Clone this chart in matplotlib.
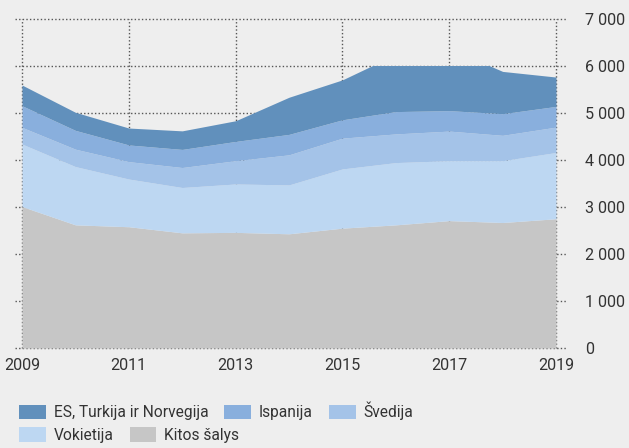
import matplotlib
matplotlib.use("Agg")
import matplotlib.pyplot as plt
from matplotlib.patches import Rectangle, Patch
from matplotlib.ticker import FuncFormatter
import numpy as np

years = [2009, 2010, 2011, 2012, 2013, 2014, 2015, 2016, 2017, 2018, 2019]
kitos = [3010, 2620, 2580, 2450, 2460, 2430, 2550, 2620, 2710, 2670, 2750]
vokietija = [1330, 1240, 1015, 965, 1030, 1040, 1260, 1325, 1275, 1315, 1410]
svedija = [355, 370, 370, 425, 495, 640, 655, 610, 630, 540, 540]
ispanija = [460, 400, 355, 385, 410, 435, 390, 475, 435, 460, 440]
es_tur_nor = [440, 385, 360, 395, 440, 790, 850, 1215, 1330, 900, 625]

series_names = ["Kitos šalys", "Vokietija", "Švedija", "Ispanija", "ES, Turkija ir Norvegija"]
colors = ["#c6c6c6", "#bdd7f2", "#a4c3e8", "#89afdd", "#6190bc"]
y_ticks = [0, 1000, 2000, 3000, 4000, 5000, 6000, 7000]
x_ticks = [2009, 2011, 2013, 2015, 2017, 2019]
total_cap = 6000  # stacked total is shown capped at this level

plt.rcParams["font.family"] = ["Roboto", "DejaVu Sans"]
text_color = "#333333"
bg = "#eeeeee"

fig = plt.figure(figsize=(6.29, 4.48), dpi=100, facecolor=bg)
ax = fig.add_axes([22 / 629, 1 - 348 / 448, (556 - 22) / 629, (348 - 19) / 448])
ax.set_facecolor(bg)

ax.set_xlim(2009, 2019)
ax.set_ylim(0, 7000)

grid_kw = dict(color="#555555", linewidth=1, linestyle=(0, (1, 1.6)), clip_on=False)
# horizontal grid lines, extended slightly past both sides as tick marks
tr = ax.get_yaxis_transform()
for yv in y_ticks:
    ax.plot([-0.013, 1.02], [yv, yv], transform=tr, zorder=0.5, **grid_kw)
for xv in x_ticks:
    ax.axvline(xv, zorder=0.5, **grid_kw)

layers = [kitos, vokietija, svedija, ispanija, es_tur_nor]
base = np.zeros(len(years))
x = np.array(years, dtype=float)
for vals, col, name in zip(layers, colors, series_names):
    top = base + np.array(vals, dtype=float)
    poly = ax.fill_between(x, base, top, color=col, linewidth=0, zorder=1)
    clip = Rectangle((years[0], 0), years[-1] - years[0], total_cap, transform=ax.transData)
    poly.set_clip_path(clip)
    base = top

for s in ax.spines.values():
    s.set_visible(False)

ax.set_xticks(x_ticks)
ax.set_xticklabels([str(v) for v in x_ticks])
ax.set_yticks(y_ticks)
ax.yaxis.set_major_formatter(FuncFormatter(lambda v, p: f"{int(v):,}".replace(",", " ")))
ax.yaxis.tick_right()
ax.tick_params(axis="y", length=0, pad=21, labelsize=11.6, labelcolor=text_color)
ax.tick_params(axis="x", length=0, pad=7.5, labelsize=11.6, labelcolor=text_color)

handles = [Patch(facecolor=c, edgecolor="none") for c in colors]
leg_kw = dict(frameon=False, fontsize=11.2, handlelength=1.72, handleheight=1.08,
              handletextpad=0.5, columnspacing=1.05, labelcolor=text_color,
              borderaxespad=0, borderpad=0, loc="center left")
leg1 = fig.legend([handles[4], handles[3], handles[2]],
                  [series_names[4], series_names[3], series_names[2]],
                  ncol=3, bbox_to_anchor=(19 / 629, 1 - 411 / 448), **leg_kw)
leg2 = fig.legend([handles[1], handles[0]], [series_names[1], series_names[0]],
                  ncol=2, bbox_to_anchor=(19 / 629, 1 - 435 / 448), **leg_kw)

fig.savefig("out.png", dpi=100, facecolor=bg)
